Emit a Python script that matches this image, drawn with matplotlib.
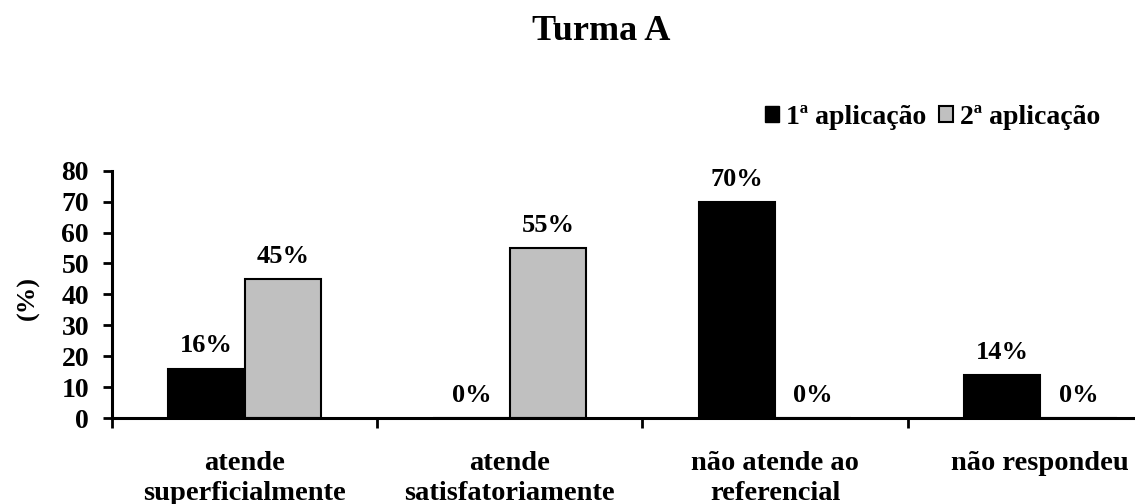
import numpy as np
import matplotlib
matplotlib.use("Agg")
import matplotlib.pyplot as plt
from matplotlib.patches import Patch

# Respostas da Turma A por categoria (%)
categorias = ["atende\nsuperficialmente", "atende\nsatisfatoriamente",
              "não atende ao\nreferencial", "não respondeu"]
aplicacao_1 = [16, 0, 70, 14]
aplicacao_2 = [45, 55, 0, 0]
series_nomes = ["1ª aplicação", "2ª aplicação"]
y_ticks = [0, 10, 20, 30, 40, 50, 60, 70, 80]

plt.rcParams["font.family"] = ["Liberation Serif", "DejaVu Serif"]
plt.rcParams["font.weight"] = "bold"

fig = plt.figure(figsize=(11.35, 5.04), dpi=100)
ax = fig.add_axes([0.0987, 0.1706, 0.9013, 0.4907])

x = np.arange(len(categorias))
w = 0.288
b1 = ax.bar(x - w / 2, aplicacao_1, w, color="black", edgecolor="black", linewidth=1.5)
b2 = ax.bar(x + w / 2, aplicacao_2, w, color="#c0c0c0", edgecolor="black", linewidth=1.5)

# rótulos de porcentagem acima das barras
for rects, vals in ((b1, aplicacao_1), (b2, aplicacao_2)):
    for r, v in zip(rects, vals):
        ax.annotate(f"{v}%", (r.get_x() + r.get_width() / 2, v),
                    xytext=(0, 8), textcoords="offset points",
                    ha="center", va="bottom", fontsize=19, fontweight="bold")

ax.set_ylim(0, 80)
ax.set_yticks(y_ticks)
ax.set_yticklabels([str(t) for t in y_ticks], fontsize=20, fontweight="bold")
ax.set_xticks(np.arange(len(categorias) + 1) - 0.5)
ax.set_xticklabels([])
ax.set_xlim(-0.5, 3.357)
ax.tick_params(axis="y", direction="out", length=6.5, width=2, pad=10)
ax.tick_params(axis="x", direction="out", length=7, width=2)
for c, lab in zip(x, categorias):
    ax.text(c, -0.135, lab, transform=ax.get_xaxis_transform(), ha="center", va="top",
            fontsize=20.5, fontweight="bold", linespacing=1.25)

for s in ("top", "right"):
    ax.spines[s].set_visible(False)
ax.spines["left"].set_linewidth(2.2)
ax.spines["bottom"].set_linewidth(2.2)

fig.text(28 / 1135, 1 - 298 / 504, "(%)", rotation=90, ha="center", va="center",
         fontsize=19, fontweight="bold")

fig.text(601 / 1135, 1 - 31 / 504, "Turma A", ha="center", va="center",
         fontsize=26, fontweight="bold")

handles = [Patch(facecolor="black", edgecolor="black"),
           Patch(facecolor="#c0c0c0", edgecolor="black", linewidth=1.5)]
fig.legend(handles, series_nomes, loc="center right", bbox_to_anchor=(1100 / 1135, 1 - 117 / 504),
           ncol=2, frameon=False, fontsize=20, handlelength=0.5, handleheight=0.5,
           handletextpad=0.25, columnspacing=0.45, borderpad=0, borderaxespad=0)

fig.savefig("out.png", dpi=100)
